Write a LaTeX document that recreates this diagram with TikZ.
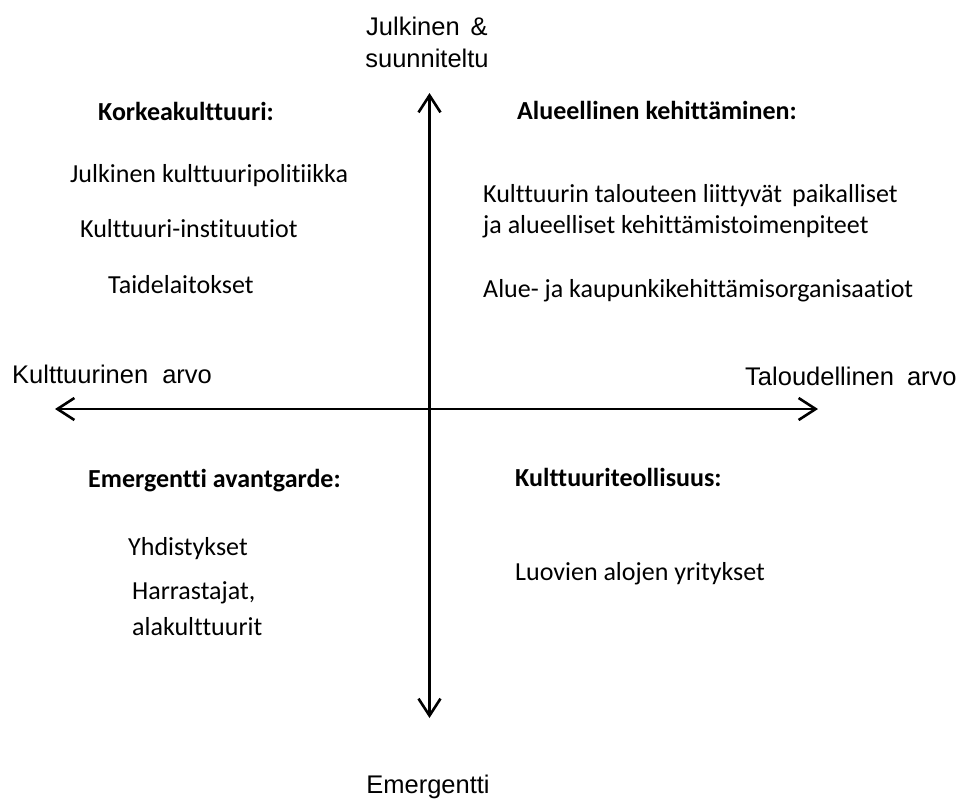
\documentclass[tikz,border=0pt]{standalone}
\usepackage{fontspec}
\setmainfont{Carlito}[Ligatures={NoCommon}]
\newfontfamily\axisfont{Liberation Sans}
\usetikzlibrary{arrows.meta}
\begin{document}
\begin{tikzpicture}[x=1pt,y=-1pt,
  axisline/.style={line width=2.6pt, {Straight Barb[length=17pt,width=22pt,line width=2.6pt]}-{Straight Barb[length=17pt,width=22pt,line width=2.6pt]}},
  axislabel/.style={inner sep=0pt, font=\axisfont\fontsize{25.5}{31.5}\selectfont},
  heading/.style={anchor=base west, inner sep=0pt, font=\fontsize{26}{31}\selectfont\bfseries},
  item/.style={anchor=base west, inner sep=0pt, font=\fontsize{26}{31}\selectfont}]
  \useasboundingbox[fill=white] (0,0) rectangle (958,801);

  % axes
  \coordinate (top) at (429.5,93);
  \coordinate (bottom) at (429.5,718);
  \coordinate (left) at (55,409);
  \coordinate (right) at (818,409);
  \draw[axisline] (top) -- (bottom);
  \draw[axisline] (left) -- (right);

  % axis labels (base anchor of a two-line node sits on its last line)
  \node[axislabel, anchor=base, align=center] (north) at (427,67) {Julkinen\hspace{11pt}\&\\suunniteltu};
  \node[axislabel, anchor=base west] (west) at (12,383) {Kulttuurinen\hspace{14pt}arvo};
  \node[axislabel, anchor=base west] (east) at (745,385) {Taloudellinen\hspace{13pt}arvo};
  \node[axislabel, anchor=base] (south) at (428,793) {Emergentti};

  % upper left quadrant
  \node[heading] (hq1) at (98,120) {Korkeakulttuuri:};
  \node[item] (q1a) at (70,182) {Julkinen kulttuuripolitiikka};
  \node[item] (q1b) at (80,237) {Kulttuuri-instituutiot};
  \node[item] (q1c) at (108,293) {Taidelaitokset};

  % upper right quadrant
  \node[heading] (hq2) at (517,119) {Alueellinen kehittäminen:};
  \node[item] (q2a) at (483,202) {Kulttuurin talouteen liittyvät \,paikalliset};
  \node[item] (q2b) at (483,233) {ja alueelliset kehittämistoimenpiteet};
  \node[item] (q2c) at (483,297) {Alue- ja kaupunkikehittämisorganisaatiot};

  % lower left quadrant
  \node[heading] (hq3) at (88,487) {Emergentti avantgarde:};
  \node[item] (q3a) at (128,555) {Yhdistykset};
  \node[item] (q3b) at (132,599) {Harrastajat,};
  \node[item] (q3c) at (132,635) {alakulttuurit};

  % lower right quadrant
  \node[heading] (hq4) at (515,486) {Kulttuuriteollisuus:};
  \node[item] (q4a) at (515,580) {Luovien alojen yritykset};
\end{tikzpicture}
\end{document}
